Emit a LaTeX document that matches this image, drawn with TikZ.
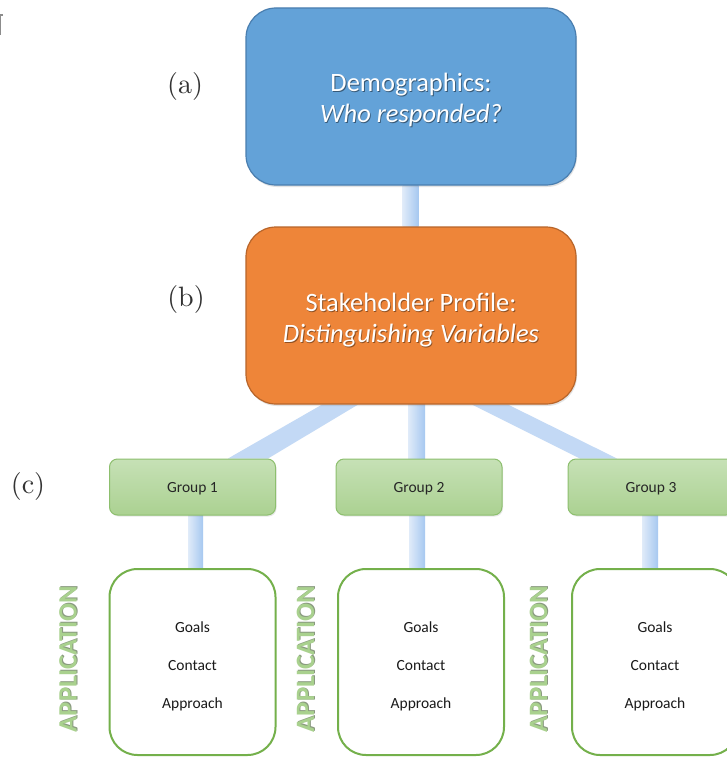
\documentclass[tikz,border=0pt]{standalone}
\usepackage{fontspec}
\newfontfamily\carl{Carlito}
\newfontfamily\labf{lmroman10-regular}[Extension=.otf]
\usetikzlibrary{shadows}
\definecolor{blueA}{HTML}{63A2D8}
\definecolor{blueB}{HTML}{4A7EAF}
\definecolor{orA}{HTML}{EE8539}
\definecolor{orB}{HTML}{B8652A}
\definecolor{grTop}{HTML}{C6E1B6}
\definecolor{grBot}{HTML}{ABD191}
\definecolor{grB}{HTML}{8DBF6E}
\definecolor{appB}{HTML}{74B04B}
\definecolor{appT}{HTML}{A9D18E}
\definecolor{appS}{HTML}{8A9A80}
\definecolor{barL}{HTML}{E0EBF9}
\definecolor{barR}{HTML}{A6C8F0}
\definecolor{barD}{HTML}{C3D9F5}
\definecolor{labc}{HTML}{333333}
\definecolor{markc}{HTML}{8C8C8C}
\newcommand\shtxt[2]{\makebox[0pt][l]{\kern0.9pt\raisebox{-1.1pt}{\textcolor{#1}{#2}}}#2}
\newcommand\strt[2]{\rule[-#1]{0pt}{#2}}
\pgfdeclarelayer{bg}
\pgfsetlayers{bg,main}
\begin{document}
\begin{tikzpicture}[x=1pt,y=-1pt,
  bigbox/.style={rounded corners=30pt, minimum width=330pt, minimum height=177pt,
    inner sep=0pt, line width=1.2pt, text=white, align=center,
    font=\carl\fontsize{26.5}{31}\selectfont,
    drop shadow={opacity=0.22, shadow xshift=1pt, shadow yshift=-2pt}},
  grpbox/.style={rounded corners=8pt, minimum width=166pt, minimum height=56pt,
    inner sep=0pt, line width=1pt, draw=grB, top color=grTop, bottom color=grBot,
    text=black!85, font=\carl\fontsize{15.5}{18}\selectfont,
    text height=15.5pt, text depth=3.8pt,
    drop shadow={opacity=0.18, shadow xshift=1pt, shadow yshift=-1.5pt}},
  appbox/.style={rounded corners=28pt, minimum width=166pt, minimum height=186pt,
    inner sep=0pt, line width=2pt, draw=appB, fill=white, align=center,
    text=black!90, font=\carl\fontsize{15.5}{38}\selectfont},
  apptext/.style={rotate=90, inner sep=0pt, text=appT,
    font=\carl\bfseries\fontsize{26.5}{30}\selectfont},
  lab/.style={inner sep=0pt, text=labc, font=\labf\fontsize{28}{30}\selectfont},
  vbar/.style={left color=barL, right color=barR},
  dbar/.style={fill=barD}
]
\begin{pgfonlayer}{bg}
\fill[white] (0,0) rectangle (727,757);
\end{pgfonlayer}
\useasboundingbox (0,0) rectangle (727,757);

% top-left mark
\draw[markc, line width=1.1pt] (3,15) -- (0.6,15) -- (0.6,35);

% main boxes
\node[bigbox, fill=blueA, draw=blueB] (a) at (411,96.5)
  {\strt{0pt}{30pt}\shtxt{black!45!blueA}{Demographics:}\\\shtxt{black!45!blueA}{\itshape Who responded?}\strt{8.8pt}{0pt}};
\node[bigbox, fill=orA, draw=orB] (b) at (411,315.5)
  {\strt{0pt}{30pt}\shtxt{black!40!orA}{Stakeholder Profile:}\\\shtxt{black!40!orA}{\itshape Distinguishing Variables}\strt{7.8pt}{0pt}};

% labels
\node[lab] (la) at (185,87) {(a)};
\node[lab] (lb) at (186,299) {(b)};
\node[lab] (lc) at (28,486) {(c)};

% groups
\node[grpbox] (g1) at (192.5,487) {Group 1};
\node[grpbox] (g2) at (419,487) {Group 2};
\node[grpbox] (g3) at (651,487) {Group 3};

% application boxes
\node[appbox] (p1) at (192.5,662) {\strt{0pt}{20pt}Goals\\Contact\\Approach\strt{4pt}{0pt}};
\node[appbox] (p2) at (421,662) {\strt{0pt}{20pt}Goals\\Contact\\Approach\strt{4pt}{0pt}};
\node[appbox] (p3) at (655,662) {\strt{0pt}{20pt}Goals\\Contact\\Approach\strt{4pt}{0pt}};

% side texts
\node[apptext] (t1) at (68.5,659) {\shtxt{appS}{APPLICATION}};
\node[apptext] (t2) at (306,659) {\shtxt{appS}{APPLICATION}};
\node[apptext] (t3) at (539,659) {\shtxt{appS}{APPLICATION}};

% connectors
\begin{pgfonlayer}{bg}
\shade[vbar] ([xshift=-8.5pt]a.south) rectangle ([xshift=7.5pt]b.north);
\shade[vbar] ([xshift=-3pt]b.south) rectangle ([xshift=6pt]g2.north);
\fill[dbar] ([xshift=-89pt]b.south) -- ([xshift=-53pt]b.south)
  -- ([xshift=75.5pt]g1.north) -- ([xshift=35.5pt]g1.north) -- cycle;
\fill[dbar] ([xshift=61pt]b.south) -- ([xshift=97pt]b.south)
  -- ([xshift=-34pt]g3.north) -- ([xshift=-71pt]g3.north) -- cycle;
\shade[vbar] ([xshift=-4.5pt]g1.south) rectangle ([xshift=10.5pt]p1.north);
\shade[vbar] ([xshift=-10pt]g2.south) rectangle ([xshift=4pt]p2.north);
\shade[vbar] ([xshift=-9pt]g3.south) rectangle ([xshift=3pt]p3.north);
\end{pgfonlayer}
\end{tikzpicture}
\end{document}
